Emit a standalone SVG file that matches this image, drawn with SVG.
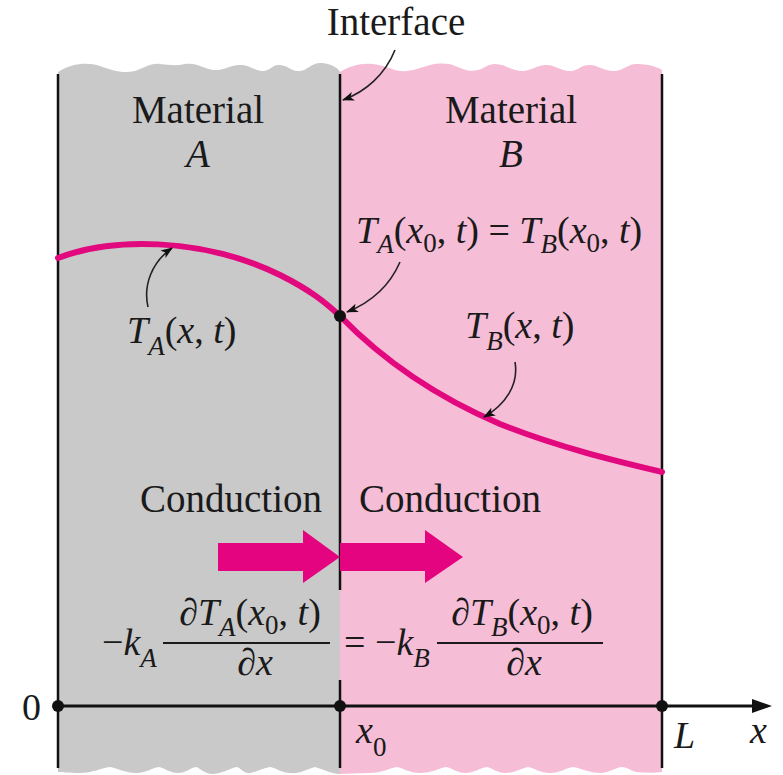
<svg xmlns="http://www.w3.org/2000/svg" width="783" height="775" viewBox="0 0 783 775">
<style>
text{font-family:"Liberation Serif",Tinos,"Times New Roman",Times,"DejaVu Serif","Noto Serif",serif;fill:#1a1a1a}
.t{font-size:39px}
.m{font-size:38px}
.i{font-style:italic}
.s{font-size:27px}
.edge{stroke:#111;stroke-width:2.5;fill:none}
.lead{stroke:#222;stroke-width:1.6;fill:none;marker-end:url(#ah)}
.curve{stroke:#e2097e;stroke-width:6;fill:none;stroke-linecap:round}
.big{fill:#e5047f}
.dot{fill:#111}
</style>
<defs>
<marker id="ah" markerWidth="12" markerHeight="10" refX="11" refY="5" orient="auto" markerUnits="userSpaceOnUse">
<path d="M0,0.5 L12,5 L0,9.5 L3,5 Z" fill="#111"/>
</marker>
</defs>
<rect width="783" height="775" fill="#fff"/>
<g id="materialA">
<path fill="#c9c9c9" d="M58,72 C72,63 88,62 100,66 C112,70 122,74 135,71 C145,68 150,63 160,64 C170,65 176,66 185,64 C198,62 205,70 215,70 C226,70 232,64 242,65 C252,66 256,72 264,71 C271,70 273,64 280,65 C289,66 292,72 300,71 C308,70 312,62 322,63 C332,64 338,68 340,72 L340,774 C332,774 325,770 315,767 C305,770 300,774 290,773 C282,773 276,768 270,767 C262,768 256,773 248,773 C244,773 240,768 237,767 C230,768 222,774 212,774 C205,774 200,768 196,767 C190,768 186,773 178,773 C170,773 164,768 159,767 C152,768 146,773 136,773 C126,773 116,768 110,767 C102,768 92,773 80,773 C70,773 62,772 58,772 Z"/>
<text class="t" x="198" y="123" text-anchor="middle" font-family="Liberation Serif, serif">Material</text>
<text class="t i" x="198" y="167" text-anchor="middle" font-family="Liberation Serif, serif">A</text>
</g>
<g id="materialB">
<path fill="#f6bdd6" d="M340,72 C350,66 360,63 372,64 C385,65 392,70 400,71 C410,72 420,68 430,65 C440,63 448,63 455,66 C465,70 470,72 478,70 C485,68 488,64 495,64 C505,64 510,70 520,71 C528,72 536,66 545,65 C553,64 560,70 568,71 C576,72 580,66 588,65 C596,64 602,70 612,71 C622,72 628,64 636,64 C646,64 656,66 662,70 L662,772 C655,773 645,773 636,772 C630,770 626,767 622,767 C616,767 610,773 600,773 C590,773 580,768 573,767 C566,768 560,773 550,773 C540,773 534,768 528,767 C522,768 515,773 505,773 C497,773 492,768 487,767 C480,768 474,773 465,773 C457,773 452,768 446,767 C440,768 432,773 420,773 C410,773 402,768 397,767 C390,768 382,773 370,773 C358,773 348,774 340,774 Z"/>
<text class="t" x="511" y="123" text-anchor="middle">Material</text>
<text class="t i" x="511" y="167" text-anchor="middle">B</text>
</g>
<g id="edges">
<line class="edge" x1="58" y1="74" x2="58" y2="768"/>
<line class="edge" x1="662" y1="74" x2="662" y2="768"/>
<line class="edge" x1="340" y1="74" x2="340" y2="590"/>
<line class="edge" x1="340" y1="680" x2="340" y2="768"/>
</g>
<g id="interface-label">
<text class="t" x="396" y="35" text-anchor="middle">Interface</text>
</g>
<g id="temperature-curve">
<path class="curve" d="M58,258 C110,238 200,236 280,275 C310,290 325,302 340,316 C375,352 425,392 500,424 C560,448 620,462 662,472"/>
</g>
<g id="label-TA">
<text class="m i" x="127" y="343">T<tspan class="s" dy="12">A</tspan><tspan dy="-12" font-style="normal">(</tspan>x<tspan font-style="normal">, </tspan>t<tspan font-style="normal">)</tspan></text>
</g>
<g id="label-TB">
<text class="m i" x="465" y="338">T<tspan class="s" dy="12">B</tspan><tspan dy="-12" font-style="normal">(</tspan>x<tspan font-style="normal">, </tspan>t<tspan font-style="normal">)</tspan></text>
</g>
<g id="label-continuity">
<text class="m i" x="356" y="243">T<tspan class="s" dy="10">A</tspan><tspan dy="-10" font-style="normal">(</tspan>x<tspan class="s" dy="9" font-style="normal">0</tspan><tspan dy="-9" font-style="normal">, </tspan>t<tspan font-style="normal">) = </tspan>T<tspan class="s" dy="10">B</tspan><tspan dy="-10" font-style="normal">(</tspan>x<tspan class="s" dy="9" font-style="normal">0</tspan><tspan dy="-9" font-style="normal">, </tspan>t<tspan font-style="normal">)</tspan></text>
</g>
<g id="interface-point">
<circle class="dot" cx="340" cy="316" r="6"/>
</g>
<g id="conduction">
<text class="t" x="140" y="512">Conduction</text>
<text class="t" x="359" y="512">Conduction</text>
<polygon class="big" points="218,543 303,543 303,530 340,557 303,583 303,571 218,571"/>
<polygon class="big" points="340,543 425,543 425,530 463,557 425,583 425,571 340,571"/>
</g>
<g id="flux-equation">
<text class="m i" x="102" y="655"><tspan font-style="normal">−</tspan>k<tspan class="s" dy="12">A</tspan></text>
<text class="m i" x="250" y="625" text-anchor="middle"><tspan font-style="normal">∂</tspan>T<tspan class="s" dy="11">A</tspan><tspan dy="-11" font-style="normal">(</tspan>x<tspan class="s" dy="9" font-style="normal">0</tspan><tspan dy="-9" font-style="normal">, </tspan>t<tspan font-style="normal">)</tspan></text>
<line x1="163" y1="643" x2="330" y2="643" stroke="#1a1a1a" stroke-width="1.8"/>
<text class="m i" x="255" y="675" text-anchor="middle"><tspan font-style="normal">∂</tspan>x</text>
<text class="m i" x="344" y="655"><tspan font-style="normal">= −</tspan>k<tspan class="s" dy="12">B</tspan></text>
<text class="m i" x="522" y="625" text-anchor="middle"><tspan font-style="normal">∂</tspan>T<tspan class="s" dy="11">B</tspan><tspan dy="-11" font-style="normal">(</tspan>x<tspan class="s" dy="9" font-style="normal">0</tspan><tspan dy="-9" font-style="normal">, </tspan>t<tspan font-style="normal">)</tspan></text>
<line x1="437" y1="643" x2="603" y2="643" stroke="#1a1a1a" stroke-width="1.8"/>
<text class="m i" x="524" y="675" text-anchor="middle"><tspan font-style="normal">∂</tspan>x</text>
</g>
<g id="axis">
<line x1="58" y1="706" x2="756" y2="706" stroke="#111" stroke-width="3"/>
<polygon points="752,699 772,706 752,713" fill="#111"/>
<circle class="dot" cx="58" cy="706" r="6"/>
<circle class="dot" cx="340" cy="706" r="6"/>
<circle class="dot" cx="662" cy="706" r="6"/>
<text class="m" x="22" y="720">0</text>
<text class="m i" x="356" y="743">x<tspan class="s" dy="13" font-style="normal">0</tspan></text>
<text class="m i" x="674" y="748">L</text>
<text class="m i" x="750" y="743">x</text>
</g>
<g id="connectors">
<path class="lead" d="M395,50 C385,75 365,92 343,100"/>
<path class="lead" d="M148,307 C143,285 152,262 172,248"/>
<path class="lead" d="M400,262 C390,285 372,302 347,312"/>
<path class="lead" d="M515,362 C519,385 505,405 484,417"/>
</g>
</svg>
